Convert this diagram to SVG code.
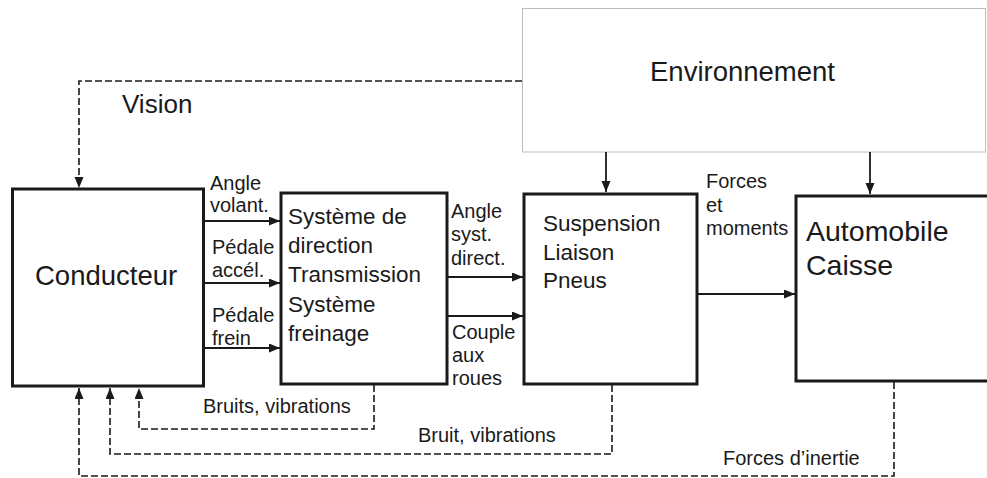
<svg xmlns="http://www.w3.org/2000/svg" width="987" height="478" viewBox="0 0 987 478">
  <style>
    .box { fill: #ffffff; stroke: #1a1a1a; stroke-width: 3; }
    .env { fill: #ffffff; stroke: #bdbdbd; stroke-width: 1; }
    .txt { font-family: "Liberation Sans", Arial, sans-serif; fill: #1a1a1a; }
    .lbl { font-size: 20px; }
    .inner { font-size: 22.5px; }
    .flow { fill: none; stroke: #1a1a1a; stroke-width: 1.8; marker-end: url(#arrow); }
    .fb { fill: none; stroke: #1a1a1a; stroke-width: 1.6; stroke-dasharray: 7 3; marker-end: url(#arrow); }
  </style>
  <defs>
    <marker id="arrow" markerUnits="userSpaceOnUse" markerWidth="12" markerHeight="10" refX="11" refY="4.5" orient="auto">
      <path d="M0,0 L11,4.5 L0,9 z" fill="#1a1a1a"/>
    </marker>
  </defs>

  <rect width="987" height="478" fill="#ffffff"/>

  <!-- Environment block -->
  <g id="environnement">
    <rect class="env" x="522.5" y="8.5" width="463" height="143.5"/>
    <text class="txt" x="650" y="81" font-size="27.5">Environnement</text>
  </g>

  <!-- Driver block -->
  <g id="conducteur">
    <rect class="box" x="12.5" y="189" width="191" height="197"/>
    <text class="txt" x="35" y="285" font-size="27.5">Conducteur</text>
  </g>

  <!-- Steering / transmission / braking block -->
  <g id="systeme">
    <rect class="box" x="281" y="193" width="166" height="191"/>
    <text class="txt inner" x="288" y="224">Système de</text>
    <text class="txt inner" x="288" y="253">direction</text>
    <text class="txt inner" x="288" y="282">Transmission</text>
    <text class="txt inner" x="288" y="312">Système</text>
    <text class="txt inner" x="288" y="341">freinage</text>
  </g>

  <!-- Suspension / tyres block -->
  <g id="suspension">
    <rect class="box" x="524" y="194" width="173" height="190"/>
    <text class="txt inner" x="543" y="231">Suspension</text>
    <text class="txt inner" x="543" y="260">Liaison</text>
    <text class="txt inner" x="543" y="288">Pneus</text>
  </g>

  <!-- Vehicle body block -->
  <g id="automobile">
    <rect class="box" x="796" y="196" width="200" height="185"/>
    <text class="txt" x="806" y="241" font-size="28.5">Automobile</text>
    <text class="txt" x="806" y="275" font-size="28.5">Caisse</text>
  </g>

  <!-- Connectors -->
  <g id="connecteurs">
    <!-- driver commands -->
    <path class="flow" d="M205,221 H280"/>
    <path class="flow" d="M205,283 H280"/>
    <path class="flow" d="M205,348 H280"/>
    <!-- actuator outputs -->
    <path class="flow" d="M447,277 H523"/>
    <path class="flow" d="M447,316 H523"/>
    <!-- forces and moments -->
    <path class="flow" d="M697,294 H795"/>
    <!-- environment inputs -->
    <path class="flow" d="M606,152 V192"/>
    <path class="flow" d="M870,152 V194"/>
    <!-- vision feedback -->
    <path class="fb" d="M522,81 H79 V188"/>
    <!-- noise / vibration / inertia feedback -->
    <path class="fb" d="M374,385 V429 H139 V388"/>
    <path class="fb" d="M612,385 V454 H110 V388"/>
    <path class="fb" d="M894,382 V476 H79 V388"/>
  </g>

  <!-- Connector labels -->
  <g id="etiquettes">
    <text class="txt" x="122" y="113" font-size="26">Vision</text>
    <text class="txt lbl" x="210" y="190">Angle</text>
    <text class="txt lbl" x="210" y="212">volant.</text>
    <text class="txt lbl" x="212" y="254">Pédale</text>
    <text class="txt lbl" x="212" y="277">accél.</text>
    <text class="txt lbl" x="212" y="322">Pédale</text>
    <text class="txt lbl" x="212" y="345">frein</text>
    <text class="txt lbl" x="451" y="218">Angle</text>
    <text class="txt lbl" x="451" y="241">syst.</text>
    <text class="txt lbl" x="451" y="265">direct.</text>
    <text class="txt lbl" x="452" y="339">Couple</text>
    <text class="txt lbl" x="452" y="362">aux</text>
    <text class="txt lbl" x="452" y="385">roues</text>
    <text class="txt lbl" x="706" y="188">Forces</text>
    <text class="txt lbl" x="706" y="212">et</text>
    <text class="txt lbl" x="706" y="235">moments</text>
    <text class="txt lbl" x="203" y="413">Bruits, vibrations</text>
    <text class="txt lbl" x="418" y="442">Bruit, vibrations</text>
    <text class="txt lbl" x="723" y="465">Forces d’inertie</text>
  </g>
</svg>
